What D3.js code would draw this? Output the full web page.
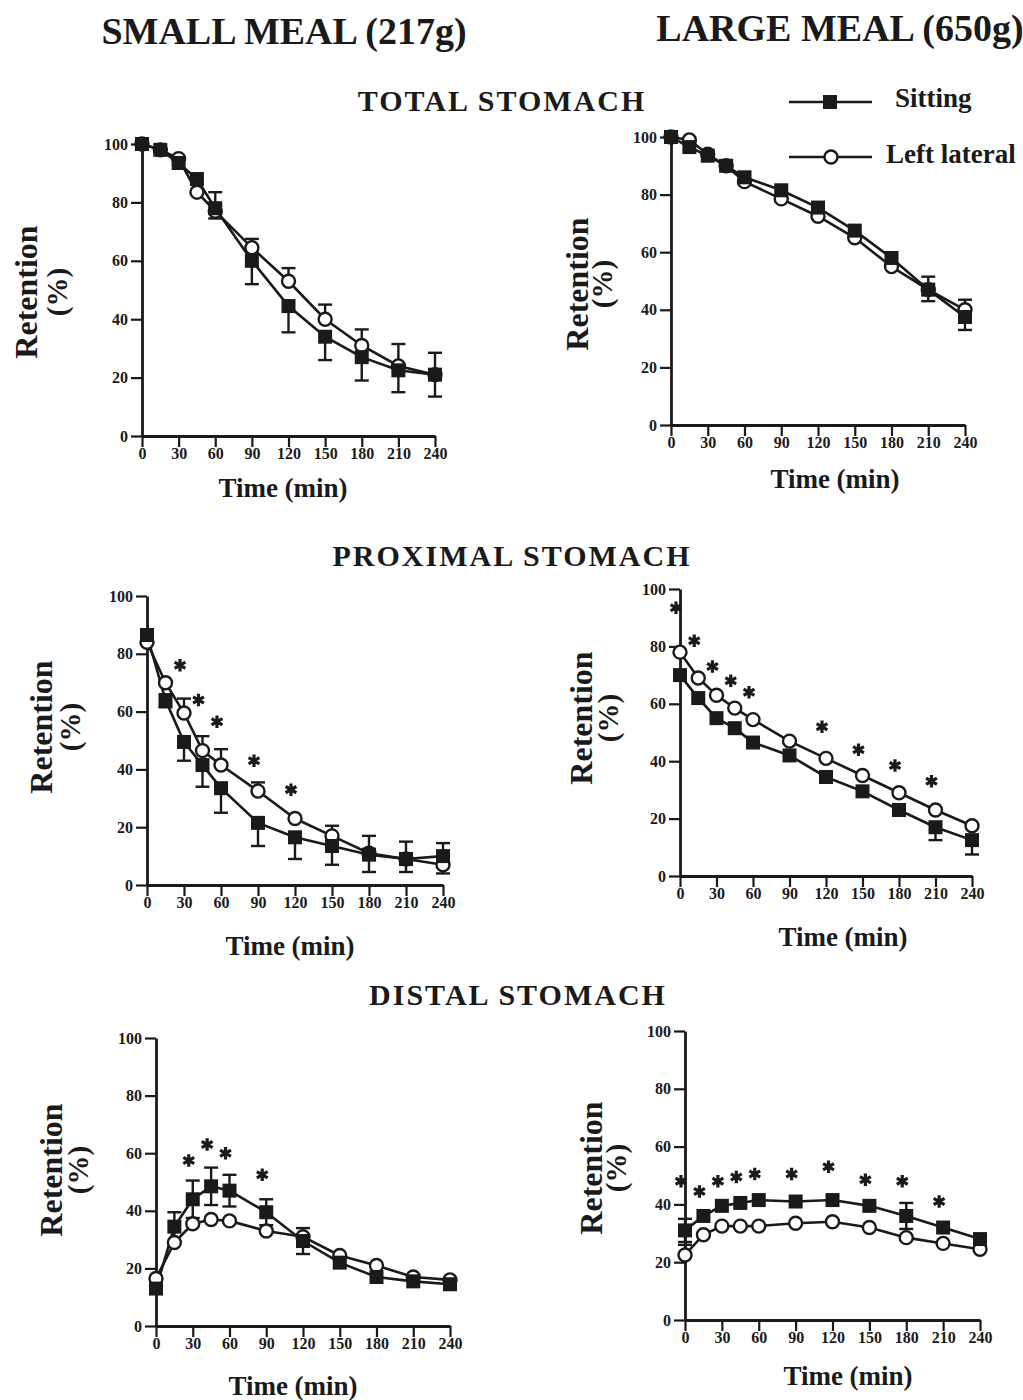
<!DOCTYPE html>
<html>
<head>
<meta charset="utf-8">
<script src="https://cdn.jsdelivr.net/npm/d3@7"></script>
<style>
  body { margin: 0; background: #fff; }
  svg text { font-family: "Liberation Serif", "Times New Roman", serif; font-weight: bold; fill: #1a1a1a; }
</style>
</head>
<body>
<svg id="fig" width="1023" height="1400"></svg>
<script>
// Sampling times (min) and axis ticks
const times = [0, 15, 30, 45, 60, 90, 120, 150, 180, 210, 240];
const xTicks = [0, 30, 60, 90, 120, 150, 180, 210, 240];
const yTicks = [0, 20, 40, 60, 80, 100];

// Total stomach retention (%), small meal
const smallTotalSit    = [100, 98, 93.5, 88, 78, 60, 44.5, 34, 27, 22.5, 21];
const smallTotalLat    = [100, 98, 95, 83.5, 77, 64.5, 53, 40, 31, 24, 21];
const smallTotalSitErr = [0, 0, 0, 0, 3.5, 8, 9, 8, 8, 7.5, 7.5];
const smallTotalLatErr = [0, 0, 0, 0, 6.5, 3, 4.5, 5, 5.5, 7.5, 7.5];

// Total stomach retention (%), large meal
const largeTotalSit    = [100, 96.5, 93.5, 90, 86, 81.5, 75.5, 67.5, 58, 47, 37.5];
const largeTotalLat    = [100, 99, 94, 90, 84.5, 78.5, 72.5, 65, 55, 47, 40];
const largeTotalSitErr = [0, 0, 0, 0, 0, 0, 0, 0, 0, 4, 4.5];
const largeTotalLatErr = [0, 0, 0, 0, 0, 0, 0, 0, 0, 4.5, 3.5];

// Proximal stomach retention (%), small meal
const smallProxSit     = [86.5, 64, 49.5, 41.5, 33.5, 21.5, 16.5, 13.5, 10.5, 9, 10];
const smallProxLat     = [84, 70, 59.5, 46.5, 41.5, 32.5, 23, 17, 11, 9, 7];
const smallProxSitErr  = [0, 2.5, 6.5, 7.5, 8.5, 8, 7.5, 6.5, 6, 4.5, 6];
const smallProxLatErr  = [0, 0, 5, 5, 5.5, 3, 0, 3.5, 6, 6, 7.5];
const smallProxStarT   = [30, 45, 60, 90, 120];
const smallProxStarY   = [76, 64, 56.5, 43, 33];

// Proximal stomach retention (%), large meal
const largeProxSit     = [70, 62, 55, 51.5, 46.5, 42, 34.5, 29.5, 23, 17, 12.5];
const largeProxLat     = [78, 69, 63, 58.5, 54.5, 47, 41, 35, 29, 23, 17.5];
const largeProxSitErr  = [0, 0, 0, 0, 0, 0, 0, 0, 0, 4.5, 5];
const largeProxLatErr  = [0, 0, 0, 0, 0, 0, 0, 0, 0, 0, 0];
const largeProxStarT   = [0, 15, 30, 45, 60, 120, 150, 180, 210];
const largeProxStarY   = [93.5, 82, 73, 68, 64, 52, 44, 38.5, 33];

// Distal stomach retention (%), small meal
const smallDistSit     = [13, 34.5, 44, 48.5, 47, 39.5, 29.5, 22, 17, 15.5, 14.5];
const smallDistLat     = [16.5, 29, 35.5, 37, 36.5, 33, 31, 24.5, 21, 17, 16];
const smallDistSitErr  = [0, 5, 6.5, 6.5, 5.5, 4.5, 4.5, 0, 0, 0, 0];
const smallDistLatErr  = [0, 0, 0, 0, 0, 0, 0, 0, 0, 0, 0];
const smallDistStarT   = [30, 45, 60, 90];
const smallDistStarY   = [57.5, 63, 60, 52.5];

// Distal stomach retention (%), large meal
const largeDistSit     = [31, 36, 39.5, 40.5, 41.5, 41, 41.5, 39.5, 36, 32, 28];
const largeDistLat     = [22.5, 29.5, 32.5, 32.5, 32.5, 33.5, 34, 32, 28.5, 26.5, 24.5];
const largeDistSitErr  = [4, 0, 0, 0, 0, 0, 0, 0, 4.5, 0, 0];
const largeDistLatErr  = [3.5, 0, 0, 0, 0, 0, 0, 0, 0, 0, 0];
const largeDistStarT   = [0, 15, 30, 45, 60, 90, 120, 150, 180, 210];
const largeDistStarY   = [48, 44.5, 48, 49.5, 50.5, 50.5, 53, 48.5, 48, 41];

// Panel placement; sitDir/latDir: -1 bar below, +1 above, 0 both sides
const panels = [
  { sit: smallTotalSit, lat: smallTotalLat, sitErr: smallTotalSitErr, latErr: smallTotalLatErr,
    starT: [], starY: [], sitDir: -1, latDir: 1,
    x0: 142, x1: 435, yt: 144, yb: 436, timeX: 283, timeY: 497, retX: 37, pctX: 67, retY: 292 },
  { sit: largeTotalSit, lat: largeTotalLat, sitErr: largeTotalSitErr, latErr: largeTotalLatErr,
    starT: [], starY: [], sitDir: -1, latDir: 1,
    x0: 671, x1: 965, yt: 137, yb: 425, timeX: 835, timeY: 488, retX: 588, pctX: 612, retY: 284 },
  { sit: smallProxSit, lat: smallProxLat, sitErr: smallProxSitErr, latErr: smallProxLatErr,
    starT: smallProxStarT, starY: smallProxStarY, sitDir: -1, latDir: 1,
    x0: 147, x1: 443, yt: 596, yb: 885, timeX: 290, timeY: 955, retX: 52, pctX: 80, retY: 727 },
  { sit: largeProxSit, lat: largeProxLat, sitErr: largeProxSitErr, latErr: largeProxLatErr,
    starT: largeProxStarT, starY: largeProxStarY, sitDir: -1, latDir: 1,
    x0: 680, x1: 972, yt: 589, yb: 876, timeX: 843, timeY: 946, retX: 592, pctX: 618, retY: 718 },
  { sit: smallDistSit, lat: smallDistLat, sitErr: smallDistSitErr, latErr: smallDistLatErr,
    starT: smallDistStarT, starY: smallDistStarY, sitDir: 0, latDir: 1,
    x0: 156, x1: 450, yt: 1038, yb: 1326, timeX: 293, timeY: 1395, retX: 62, pctX: 88, retY: 1170 },
  { sit: largeDistSit, lat: largeDistLat, sitErr: largeDistSitErr, latErr: largeDistLatErr,
    starT: largeDistStarT, starY: largeDistStarY, sitDir: 0, latDir: 1,
    x0: 685, x1: 980, yt: 1031, yb: 1320, timeX: 848, timeY: 1385, retX: 602, pctX: 626, retY: 1168 }
];

const svg = d3.select("#fig");
const INK = "#1a1a1a";
const SQ = 14;      // square marker side
const CR = 6.5;     // circle marker radius
const CAP = 7;      // half width of error-bar caps

// Column and section headings
const headings = [
  { text: "SMALL MEAL (217g)", x: 284, y: 44, size: 38, sp: 0 },
  { text: "LARGE MEAL (650g)", x: 840, y: 41, size: 38, sp: 0 },
  { text: "TOTAL STOMACH", x: 502, y: 111, size: 30, sp: 2 },
  { text: "PROXIMAL STOMACH", x: 512, y: 566, size: 30, sp: 2 },
  { text: "DISTAL STOMACH", x: 518, y: 1005, size: 30, sp: 2 }
];
svg.selectAll("text.heading").data(headings).enter().append("text")
  .attr("class", "heading")
  .attr("x", d => d.x).attr("y", d => d.y)
  .attr("text-anchor", "middle")
  .style("font-size", d => d.size + "px")
  .style("letter-spacing", d => d.sp + "px")
  .text(d => d.text);

// Legend
const legend = svg.append("g");
legend.append("line").attr("x1", 789).attr("x2", 872).attr("y1", 102).attr("y2", 102)
  .attr("stroke", INK).attr("stroke-width", 2.6);
legend.append("rect").attr("x", 830 - SQ / 2).attr("y", 102 - SQ / 2).attr("width", SQ).attr("height", SQ)
  .attr("fill", INK);
legend.append("text").attr("x", 895).attr("y", 107).style("font-size", "27px").text("Sitting");
legend.append("line").attr("x1", 789).attr("x2", 872).attr("y1", 157).attr("y2", 157)
  .attr("stroke", INK).attr("stroke-width", 2.6);
legend.append("circle").attr("cx", 831).attr("cy", 157).attr("r", CR)
  .attr("fill", "#fff").attr("stroke", INK).attr("stroke-width", 2.4);
legend.append("text").attr("x", 886).attr("y", 163).style("font-size", "27px").text("Left lateral");

function errorSegments(vals, errs, dir) {
  const out = [];
  vals.forEach((v, i) => {
    const e = errs[i];
    if (!e) return;
    const lo = dir === 1 ? v : v - e;
    const hi = dir === -1 ? v : v + e;
    out.push({ t: times[i], lo, hi, capLo: dir !== 1, capHi: dir !== -1 });
  });
  return out;
}

function drawPanel(p) {
  const x = d3.scaleLinear().domain([0, 240]).range([p.x0, p.x1]);
  const y = d3.scaleLinear().domain([0, 100]).range([p.yb, p.yt]);
  const g = svg.append("g");

  const xAxis = g.append("g").attr("transform", `translate(0,${p.yb})`)
    .call(d3.axisBottom(x).tickValues(xTicks).tickSize(11).tickSizeOuter(0).tickPadding(1));
  const yAxis = g.append("g").attr("transform", `translate(${p.x0},0)`)
    .call(d3.axisLeft(y).tickValues(yTicks).tickSize(11).tickSizeOuter(0).tickPadding(3));
  [xAxis, yAxis].forEach(a => {
    a.select(".domain").attr("stroke", INK).attr("stroke-width", 2.8);
    a.selectAll(".tick line").attr("stroke", INK).attr("stroke-width", 2.2);
    a.selectAll(".tick text").attr("fill", INK)
      .style("font-family", '"Liberation Serif", serif').style("font-weight", "bold").style("font-size", "16px");
  });

  const sit = times.map((t, i) => ({ t, v: p.sit[i] }));
  const lat = times.map((t, i) => ({ t, v: p.lat[i] }));
  const line = d3.line().x(d => x(d.t)).y(d => y(d.v));

  [lat, sit].forEach(s => g.append("path").datum(s).attr("d", line)
    .attr("fill", "none").attr("stroke", INK).attr("stroke-width", 2.6));

  // Error bars (SEM)
  const bars = errorSegments(p.sit, p.sitErr, p.sitDir).concat(errorSegments(p.lat, p.latErr, p.latDir));
  const eb = g.append("g").attr("stroke", INK).attr("stroke-width", 2.4);
  bars.forEach(b => {
    eb.append("line").attr("x1", x(b.t)).attr("x2", x(b.t)).attr("y1", y(b.lo)).attr("y2", y(b.hi));
    if (b.capLo) eb.append("line").attr("x1", x(b.t) - CAP).attr("x2", x(b.t) + CAP).attr("y1", y(b.lo)).attr("y2", y(b.lo));
    if (b.capHi) eb.append("line").attr("x1", x(b.t) - CAP).attr("x2", x(b.t) + CAP).attr("y1", y(b.hi)).attr("y2", y(b.hi));
  });

  // Left lateral: open circles
  g.selectAll("circle.lat").data(lat).enter().append("circle").attr("class", "lat")
    .attr("cx", d => x(d.t)).attr("cy", d => y(d.v)).attr("r", CR)
    .attr("fill", "#fff").attr("stroke", INK).attr("stroke-width", 2.4);

  // Sitting: filled squares
  g.selectAll("rect.sit").data(sit).enter().append("rect").attr("class", "sit")
    .attr("x", d => x(d.t) - SQ / 2).attr("y", d => y(d.v) - SQ / 2)
    .attr("width", SQ).attr("height", SQ).attr("fill", INK);

  // Significance markers
  const star = d3.symbol().type(d3.symbolAsterisk).size(110);
  g.selectAll("path.star").data(p.starT.map((t, i) => ({ t, v: p.starY[i] }))).enter()
    .append("path").attr("class", "star")
    .attr("transform", d => `translate(${x(d.t) - 4},${y(d.v)})`)
    .attr("d", star).attr("fill", "none").attr("stroke", INK).attr("stroke-width", 3.2);

  // Axis titles
  g.append("text").attr("x", p.timeX).attr("y", p.timeY).attr("text-anchor", "middle")
    .style("font-size", "27px").text("Time (min)");
  g.append("text").attr("transform", `translate(${p.retX},${p.retY}) rotate(-90)`)
    .attr("text-anchor", "middle").style("font-size", "32px").text("Retention");
  g.append("text").attr("transform", `translate(${p.pctX},${p.retY}) rotate(-90)`)
    .attr("text-anchor", "middle").style("font-size", "29px").text("(%)");
}

panels.forEach(drawPanel);
</script>
</body>
</html>
